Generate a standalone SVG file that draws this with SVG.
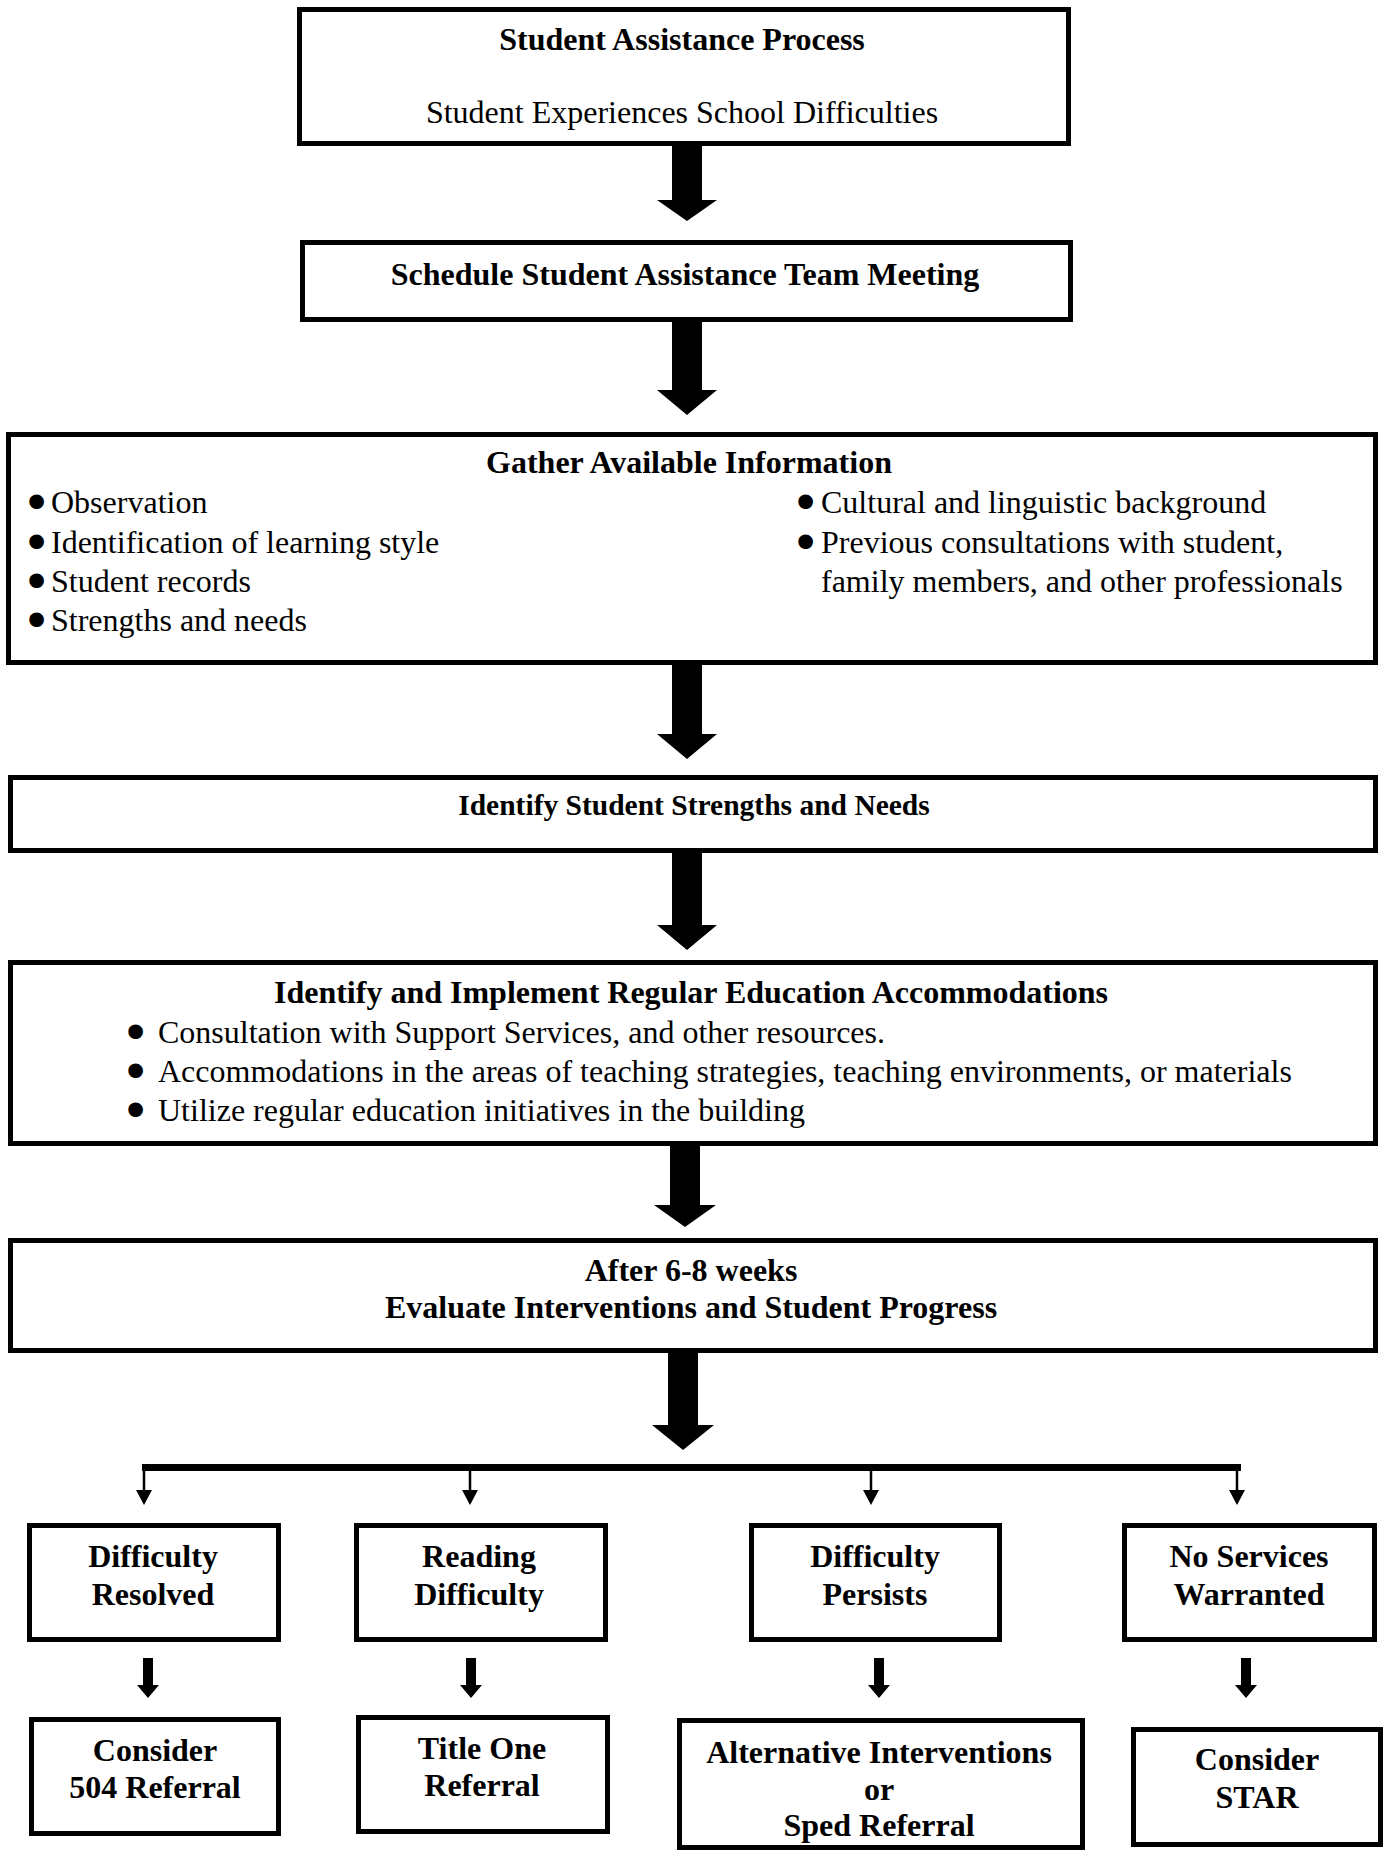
<svg xmlns="http://www.w3.org/2000/svg" width="1384" height="1852" viewBox="0 0 1384 1852">
<style>
.box{fill:#fff;stroke:#000;stroke-width:5}
.t{font-family:"Liberation Serif","Times New Roman",serif;font-size:32px;fill:#000}
.b{font-weight:bold}
.m{text-anchor:middle}
.bu{font-family:"Liberation Serif","Times New Roman",serif;font-size:32px;fill:#000;stroke:#000;stroke-width:7;stroke-linejoin:round}
.ar{fill:#000}
</style>
<rect width="1384" height="1852" fill="#fff"/>
<g id="connectors">
  <path class="ar" d="M672,146 H702 V200 H717 L687,221 L657,200 H672 Z"/>
  <path class="ar" d="M672,322 H702 V390 H717 L687,415 L657,390 H672 Z"/>
  <path class="ar" d="M672,665 H702 V734 H717 L687,759 L657,734 H672 Z"/>
  <path class="ar" d="M672,853 H702 V925 H717 L687,950 L657,925 H672 Z"/>
  <path class="ar" d="M670,1146 H700 V1205 H716 L685,1227 L654,1205 H670 Z"/>
  <path class="ar" d="M668,1353 H698 V1425 H714 L683,1450 L652,1425 H668 Z"/>
  <rect class="ar" x="142" y="1464" width="1099" height="7"/>
  <g stroke="#000" stroke-width="2.5">
    <line x1="144" y1="1466" x2="144" y2="1492"/>
    <line x1="470" y1="1466" x2="470" y2="1492"/>
    <line x1="871" y1="1466" x2="871" y2="1492"/>
    <line x1="1237" y1="1466" x2="1237" y2="1492"/>
  </g>
  <path class="ar" d="M136,1490 H152 L144,1505 Z"/>
  <path class="ar" d="M462,1490 H478 L470,1505 Z"/>
  <path class="ar" d="M863,1490 H879 L871,1505 Z"/>
  <path class="ar" d="M1229,1490 H1245 L1237,1505 Z"/>
  <path class="ar" d="M143,1658 H153 V1685 H159 L148,1698 L137,1685 H143 Z"/>
  <path class="ar" d="M466,1658 H476 V1685 H482 L471,1698 L460,1685 H466 Z"/>
  <path class="ar" d="M874,1658 H884 V1685 H890 L879,1698 L868,1685 H874 Z"/>
  <path class="ar" d="M1241,1658 H1251 V1685 H1257 L1246,1698 L1235,1685 H1241 Z"/>
</g>
<g id="n1">
  <rect class="box" x="299.5" y="9.5" width="769" height="134"/>
  <text class="t b m" x="682" y="50">Student Assistance Process</text>
  <text class="t m" x="682" y="123">Student Experiences School Difficulties</text>
</g>
<g id="n2">
  <rect class="box" x="302.5" y="242.5" width="768" height="77"/>
  <text class="t b m" x="685" y="285">Schedule Student Assistance Team Meeting</text>
</g>
<g id="n3">
  <rect class="box" x="8.5" y="434.5" width="1367" height="228"/>
  <text class="t b m" x="689" y="473">Gather Available Information</text>
  <text class="bu" x="31" y="513">•</text><text class="t" x="51" y="513">Observation</text>
  <text class="bu" x="31" y="553">•</text><text class="t" x="51" y="553">Identification of learning style</text>
  <text class="bu" x="31" y="592">•</text><text class="t" x="51" y="592">Student records</text>
  <text class="bu" x="31" y="631">•</text><text class="t" x="51" y="631">Strengths and needs</text>
  <text class="bu" x="800" y="513">•</text><text class="t" x="821" y="513">Cultural and linguistic background</text>
  <text class="bu" x="800" y="553">•</text><text class="t" x="821" y="553">Previous consultations with student,</text>
  <text class="t" x="821" y="592">family members, and other professionals</text>
</g>
<g id="n4">
  <rect class="box" x="10.5" y="777.5" width="1365" height="73"/>
  <text class="t b m" x="694" y="815" style="font-size:29.5px">Identify Student Strengths and Needs</text>
</g>
<g id="n5">
  <rect class="box" x="10.5" y="962.5" width="1365" height="181"/>
  <text class="t b m" x="691" y="1003">Identify and Implement Regular Education Accommodations</text>
  <text class="bu" x="130" y="1043">•</text><text class="t" x="158" y="1043">Consultation with Support Services, and other resources.</text>
  <text class="bu" x="130" y="1082">•</text><text class="t" x="158" y="1082">Accommodations in the areas of teaching strategies, teaching environments, or materials</text>
  <text class="bu" x="130" y="1121">•</text><text class="t" x="158" y="1121">Utilize regular education initiatives in the building</text>
</g>
<g id="n6">
  <rect class="box" x="10.5" y="1240.5" width="1365" height="110"/>
  <text class="t b m" x="691" y="1281">After 6-8 weeks</text>
  <text class="t b m" x="691" y="1318">Evaluate Interventions and Student Progress</text>
</g>
<g id="n7">
  <rect class="box" x="29.5" y="1525.5" width="249" height="114"/>
  <text class="t b m" x="153" y="1567">Difficulty</text>
  <text class="t b m" x="153" y="1605">Resolved</text>
</g>
<g id="n8">
  <rect class="box" x="356.5" y="1525.5" width="249" height="114"/>
  <text class="t b m" x="479" y="1567">Reading</text>
  <text class="t b m" x="479" y="1605">Difficulty</text>
</g>
<g id="n9">
  <rect class="box" x="751.5" y="1525.5" width="248" height="114"/>
  <text class="t b m" x="875" y="1567">Difficulty</text>
  <text class="t b m" x="875" y="1605">Persists</text>
</g>
<g id="n10">
  <rect class="box" x="1124.5" y="1525.5" width="250" height="114"/>
  <text class="t b m" x="1249" y="1567">No Services</text>
  <text class="t b m" x="1249" y="1605">Warranted</text>
</g>
<g id="n11">
  <rect class="box" x="31.5" y="1719.5" width="247" height="114"/>
  <text class="t b m" x="155" y="1761">Consider</text>
  <text class="t b m" x="155" y="1798">504 Referral</text>
</g>
<g id="n12">
  <rect class="box" x="358.5" y="1717.5" width="249" height="114"/>
  <text class="t b m" x="482" y="1759">Title One</text>
  <text class="t b m" x="482" y="1796">Referral</text>
</g>
<g id="n13">
  <rect class="box" x="679.5" y="1720.5" width="403" height="127"/>
  <text class="t b m" x="879" y="1763">Alternative Interventions</text>
  <text class="t b m" x="879" y="1800">or</text>
  <text class="t b m" x="879" y="1836">Sped Referral</text>
</g>
<g id="n14">
  <rect class="box" x="1133.5" y="1729.5" width="247" height="115"/>
  <text class="t b m" x="1257" y="1770">Consider</text>
  <text class="t b m" x="1257" y="1808">STAR</text>
</g>
</svg>
